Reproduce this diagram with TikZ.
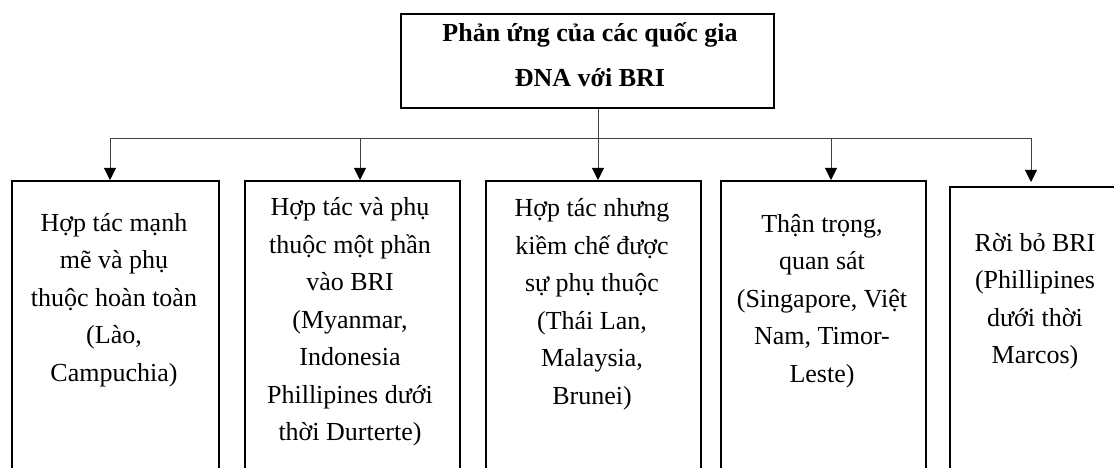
\documentclass[tikz,border=0pt]{standalone}
\usepackage{fontspec}
\setmainfont{Liberation Serif}
\usetikzlibrary{arrows.meta}

\begin{document}
\begin{tikzpicture}[x=1pt,y=-1pt]

  %Styles for picture
  \tikzset
  {
  rootbox/.style={draw, line width=1.5pt, minimum width=373pt, minimum height=94pt, inner sep=0pt},
  roottext/.style={align=center, inner sep=0pt, font=\bfseries\fontsize{26}{45}\selectfont},
  leafbox/.style={draw, line width=1.5pt, anchor=north west, inner sep=0pt, minimum height=320pt},
  leaftext/.style={align=center, inner sep=0pt, font=\fontsize{26}{37.5}\selectfont},
  link/.style={draw=black!75, line width=0.9pt},
  arrowlink/.style={link, -{Triangle[width=12pt,length=12pt,color=black]}},
  }

  \path[use as bounding box, clip] (0,0) rectangle (1114,468);

  % Nodes
  \node[rootbox] (root) at (587.5,61) {};
  \node[roottext] (title) at (590,55) {Phản ứng của các quốc gia\\ĐNA với BRI};

  \node[leafbox, minimum width=207pt] (b1) at (11,180) {};
  \node[leafbox, minimum width=215pt] (b2) at (244,180) {};
  \node[leafbox, minimum width=215pt] (b3) at (485,180) {};
  \node[leafbox, minimum width=205pt] (b4) at (720,180) {};
  \node[leafbox, minimum width=205pt] (b5) at (949,186) {};

  \node[leaftext] (t1) at (114,300) {Hợp tác mạnh\\mẽ và phụ\\thuộc hoàn toàn\\(Lào,\\Campuchia)};
  \node[leaftext] (t2) at (350,322) {Hợp tác và phụ\\thuộc một phần\\vào BRI\\(Myanmar,\\Indonesia\\Phillipines dưới\\thời Durterte)};
  \node[leaftext] (t3) at (592,304) {Hợp tác nhưng\\kiềm chế được\\sự phụ thuộc\\(Thái Lan,\\Malaysia,\\Brunei)};
  \node[leaftext] (t4) at (822,301) {Thận trọng,\\quan sát\\(Singapore, Việt\\Nam, Timor-\\Leste)};
  \node[leaftext] (t5) at (1035,301) {Rời bỏ BRI\\(Phillipines\\dưới thời\\Marcos)};

  % Junctions on the bar
  \coordinate (j0) at (598,138);
  \coordinate (j1) at (110,138);
  \coordinate (j2) at (360,138);
  \coordinate (j4) at (831,138);
  \coordinate (j5) at (1031,138);

  % Edges
  \draw[link] (root.south -| j0) -- (j0);
  \draw[link] (j1) -- (j5);
  \draw[arrowlink] (j1) -- (j1 |- b1.north);
  \draw[arrowlink] (j2) -- (j2 |- b2.north);
  \draw[arrowlink] (j0) -- (j0 |- b3.north);
  \draw[arrowlink] (j4) -- (j4 |- b4.north);
  \draw[arrowlink] (j5) -- ([yshift=4pt] j5 |- b5.north); % stops short
\end{tikzpicture}
\end{document}
